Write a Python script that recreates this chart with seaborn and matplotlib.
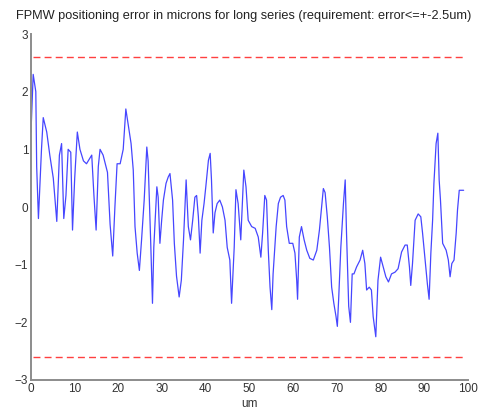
import matplotlib
matplotlib.use("Agg")
import matplotlib.pyplot as plt
import seaborn as sns
import pandas as pd

# ---- data ----
pos_um = [0.0, 0.5, 1.1, 1.3, 1.7, 2.4, 2.8, 3.6, 4.3, 5.1, 5.9, 6.5, 7.0, 7.5, 8.0, 8.5,
          9.1, 9.5, 10.0, 10.6, 11.2, 12.0, 12.7, 13.5, 13.9, 14.4, 14.9, 15.4, 15.8, 16.5,
          17.5, 18.1, 18.7, 19.2, 19.7, 20.4, 21.1, 21.7, 22.3,
          22.9, 23.4, 23.8, 24.3, 24.8, 25.3, 25.9, 26.5, 26.8, 27.4, 27.8, 28.1, 28.8, 29.1,
          29.5, 29.9, 30.3, 30.9, 31.4, 31.8, 32.4, 32.8, 33.3, 33.9, 34.4, 34.9, 35.5, 36.0,
          36.5, 37.0, 37.5, 37.9, 38.3, 38.7, 39.1, 39.6, 40.0, 40.6, 41.0, 41.3, 41.7, 42.1,
          42.6, 43.2, 43.8, 44.4, 44.9, 45.5, 45.9, 46.5, 46.9, 47.4, 48.0,
          48.7, 49.2, 49.7, 50.5, 51.3, 52.0, 52.6, 53.0, 53.5, 53.9, 54.3, 54.7, 55.1, 55.4,
          56.1, 56.6, 57.1, 57.7, 58.1, 58.5, 59.1, 59.9, 60.4, 60.8, 61.0, 61.4, 61.9, 62.5,
          63.1, 63.8, 64.6, 65.4, 66.0, 66.5, 66.9, 67.3, 67.8, 68.3, 68.8, 69.3, 69.8, 70.1,
          70.4, 70.9, 71.5, 71.9, 72.2, 72.7, 73.1,
          73.5, 73.9, 74.5, 75.3, 75.9, 76.4, 76.8, 77.4, 77.9, 78.3, 78.9, 79.4, 80.0, 80.6,
          81.2, 81.8, 82.5, 83.3, 84.0, 84.8, 85.6, 86.1, 86.6, 86.9, 87.3, 87.9, 88.6, 89.2,
          89.6, 90.2, 90.7, 91.1, 91.5, 91.9, 92.2, 92.7, 93.1, 93.4, 93.7, 94.2, 95.0, 95.5,
          95.9, 96.3, 96.8, 97.3, 97.6, 98.0, 99.0]
error_um = [1.3, 2.3, 2.0, 0.7, -0.2, 1.0, 1.55, 1.3, 0.9, 0.5, -0.25, 0.9, 1.1, -0.2, 0.2, 1.0,
            0.95, -0.4, 0.5, 1.3, 1.0, 0.8, 0.75, 0.85, 0.9, 0.2, -0.4, 0.7, 1.0, 0.9,
            0.6, -0.3, -0.85, 0.0, 0.75, 0.75, 1.0, 1.7, 1.4,
            1.1, 0.64, -0.34, -0.8, -1.1, -0.57, 0.12, 1.04, 0.8, -0.63, -1.67, -0.7, 0.35, 0.17,
            -0.63, -0.23, 0.12, 0.41, 0.52, 0.58, 0.12, -0.63, -1.2, -1.56, -1.27, -0.57, 0.47, -0.34,
            -0.57, -0.23, 0.17, 0.2, -0.17, -0.8, -0.23, 0.06, 0.35, 0.81, 0.93, 0.47, -0.45, -0.1,
            0.06, 0.12, 0.0, -0.23, -0.7, -0.92, -1.67, -0.7, 0.3, 0.06, -0.57,
            0.64, 0.35, -0.23, -0.34, -0.37, -0.52, -0.87, -0.45, 0.2, 0.12, -0.75, -1.39, -1.78, -1.16,
            -0.34, 0.06, 0.17, 0.2, 0.12, -0.34, -0.63, -0.63, -0.8, -1.27, -1.6, -0.52, -0.34, -0.57,
            -0.75, -0.89, -0.92, -0.75, -0.4, 0.0, 0.32, 0.25, -0.17, -0.7, -1.39, -1.67, -1.9, -2.07,
            -1.6, -0.7, 0.06, 0.47, -0.45, -1.72, -2.0,
            -1.16, -1.16, -1.04, -0.92, -0.75, -0.98, -1.44, -1.39, -1.44, -1.9, -2.25, -1.27, -0.87, -1.04,
            -1.21, -1.3, -1.16, -1.13, -1.07, -0.78, -0.66, -0.66, -1.04, -1.36, -0.98, -0.23, -0.12, -0.17,
            -0.45, -0.92, -1.33, -1.6, -0.8, -0.23, 0.41, 1.1, 1.28, 0.47, 0.12, -0.63, -0.75, -0.92,
            -1.21, -0.98, -0.92, -0.45, -0.05, 0.29, 0.29]
limits = [2.6, -2.6]
x_ticks = [0, 10, 20, 30, 40, 50, 60, 70, 80, 90, 100]
y_ticks = [-3, -2, -1, 0, 1, 2, 3]
title = "FPMW positioning error in microns for long series (requirement: error<=+-2.5um)"

df = pd.DataFrame({"um": pos_um, "err": error_um})

sns.set_style("white")
plt.rcParams["font.family"] = ["Liberation Sans", "DejaVu Sans"]

fig = plt.figure(figsize=(4.87, 4.12), dpi=100)
ax = fig.add_axes([31/487, 32/412, 437/487, 346/412])

sns.lineplot(data=df, x="um", y="err", ax=ax, color="#4646ff", linewidth=0.9,
             sort=False, estimator=None)
for lim in limits:
    ax.axhline(lim, xmin=0.005, xmax=0.995, color="#ff4040", linestyle=(0, (5, 3)), linewidth=1.0)

ax.set_xlim(0, 100)
ax.set_ylim(-3, 3)
ax.set_xticks(x_ticks)
ax.set_yticks(y_ticks)
ax.set_xlabel("um", fontsize=8.5, color="#333333", labelpad=2)
ax.set_ylabel("")
fig.text(0.5, 1 - 16/412, title, ha="center", va="center", fontsize=9.2, color="#222222")

for side in ["top", "right"]:
    ax.spines[side].set_visible(False)
for side in ["left", "bottom"]:
    ax.spines[side].set_color("#8c8c8c")
    ax.spines[side].set_linewidth(1.4)
ax.tick_params(direction="in", length=4, width=0.9, color="#777777",
               labelsize=8.5, labelcolor="#333333", pad=2)

fig.savefig("out.png", dpi=100)
